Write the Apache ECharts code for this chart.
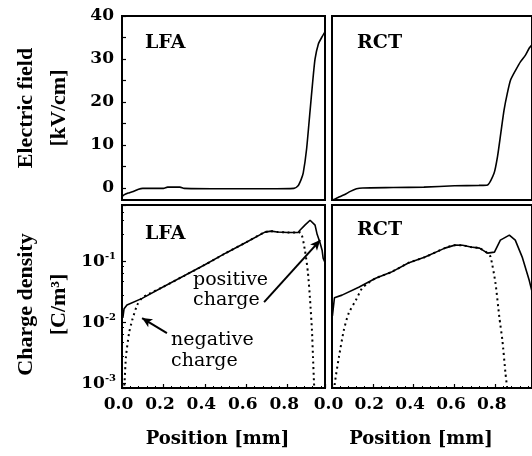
<!DOCTYPE html>
<html><head><meta charset="utf-8">
<script src="https://cdn.jsdelivr.net/npm/echarts@6/dist/echarts.min.js"></script>
<style>html,body{margin:0;padding:0;background:#fff}#c{width:532px;height:456px}</style>
</head><body><div id="c"></div>
<script>
// ---------- data (position in mm) ----------
const fieldTickValues = [0, 10, 20, 30, 40];
const fieldTickMarks = [0, 5, 10, 15, 20, 25, 30, 35, 40];
const xTickLabels = ['0.0', '0.2', '0.4', '0.6', '0.8'];

// Electric field [kV/cm], LFA
const posLfaField = [0.0, 0.01, 0.03, 0.05, 0.08, 0.1, 0.2, 0.22, 0.28, 0.3, 0.5, 0.7, 0.83, 0.85, 0.865, 0.875, 0.891, 0.908, 0.92, 0.932, 0.948, 0.964, 0.98];
const fieldLfa    = [-2.0, -1.6, -1.2, -0.9, -0.3, -0.1, -0.1, 0.2, 0.2, -0.1, -0.2, -0.2, -0.1, 0.5, 2.0, 3.5, 9.0, 18.0, 24.4, 30.0, 33.5, 35.0, 36.3];

// Electric field [kV/cm], RCT
const posRctField = [0.003, 0.03, 0.06, 0.09, 0.12, 0.15, 0.3, 0.45, 0.6, 0.72, 0.762, 0.794, 0.811, 0.827, 0.843, 0.859, 0.875, 0.9, 0.924, 0.948, 0.966, 0.98];
const fieldRct    = [-2.8, -2.2, -1.6, -0.8, -0.2, 0.0, 0.1, 0.2, 0.5, 0.6, 0.7, 3.4, 7.3, 12.7, 18.1, 22.0, 25.1, 27.4, 29.4, 30.9, 32.5, 33.3];

// Charge density [C/m^3], LFA
const posLfaPos = [0.004, 0.01, 0.024, 0.097, 0.2, 0.3, 0.4, 0.5, 0.6, 0.69, 0.72, 0.75, 0.8, 0.85, 0.86, 0.883, 0.908, 0.917, 0.932, 0.942, 0.956, 0.966, 0.971, 0.98];
const rhoLfaPos = [0.0117, 0.0166, 0.0191, 0.0245, 0.038, 0.0575, 0.087, 0.135, 0.204, 0.299, 0.31, 0.30, 0.295, 0.295, 0.324, 0.389, 0.468, 0.49, 0.389, 0.275, 0.20, 0.151, 0.112, 0.095];
const posLfaNeg = [0.006, 0.012, 0.019, 0.034, 0.049, 0.073, 0.097, 0.13, 0.2, 0.3, 0.4, 0.5, 0.6, 0.69, 0.72, 0.75, 0.8, 0.86, 0.883, 0.898, 0.908, 0.917, 0.922, 0.927, 0.932];
const rhoLfaNeg = [0.0006, 0.001, 0.00269, 0.0066, 0.0107, 0.019, 0.025, 0.029, 0.038, 0.0575, 0.087, 0.135, 0.204, 0.299, 0.31, 0.30, 0.295, 0.295, 0.151, 0.063, 0.0229, 0.0074, 0.00269, 0.001, 0.0005];

// Charge density [C/m^3], RCT
const posRctPos = [0.002, 0.012, 0.049, 0.131, 0.214, 0.291, 0.374, 0.456, 0.553, 0.602, 0.64, 0.68, 0.723, 0.762, 0.796, 0.825, 0.869, 0.898, 0.932, 0.956, 0.966, 0.98];
const rhoRctPos = [0.0126, 0.0251, 0.0277, 0.0372, 0.0525, 0.0661, 0.0933, 0.1164, 0.1633, 0.1828, 0.182, 0.17, 0.1633, 0.1352, 0.1406, 0.2208, 0.2667, 0.2208, 0.1164, 0.0635, 0.049, 0.0316];
const posRctNeg = [0.008, 0.014, 0.034, 0.058, 0.082, 0.117, 0.146, 0.17, 0.214, 0.291, 0.374, 0.456, 0.553, 0.602, 0.64, 0.68, 0.723, 0.762, 0.777, 0.801, 0.82, 0.835, 0.85, 0.859];
const rhoRctNeg = [0.0005, 0.001, 0.00269, 0.0074, 0.0141, 0.0229, 0.0355, 0.042, 0.0525, 0.0661, 0.0933, 0.1164, 0.1633, 0.1828, 0.182, 0.17, 0.1633, 0.1352, 0.1175, 0.0437, 0.012, 0.005, 0.00145, 0.0008];

// annotation arrows (data coordinates)
const posArrowTail = [0.686, 0.0213], posArrowTip = [0.957, 0.221];
const negArrowTail = [0.217, 0.0066], negArrowTip = [0.097, 0.01164];

const zip = (xs, ys) => xs.map((x, i) => [x, ys[i]]);

// ---------- styling ----------
const BOLD = '"DejaVu Serif"';
const tickFont = { fontFamily: BOLD, fontWeight: 'bold', fontSize: 17, color: '#000' };
const black = '#000';

function xAxisDef(gridIndex, labels) {
  return {
    type: 'value', gridIndex, min: 0, max: 0.98, interval: 0.2,
    axisLine: { show: true, onZero: false, lineStyle: { color: black, width: 2 } },
    axisTick: { show: labels, inside: true, length: 4, lineStyle: { color: black, width: 1.2 } },
    minorTick: { show: labels, splitNumber: 5, length: 2, lineStyle: { color: black, width: 1 } },
    splitLine: { show: false },
    axisLabel: labels ? Object.assign({ show: true, margin: 8, showMaxLabel: false, padding: [0, 7, 0, 0],
      formatter: v => v.toFixed(1) }, tickFont) : { show: false },
    name: labels ? 'Position [mm]' : '',
    nameLocation: 'middle', nameGap: 42,
    nameTextStyle: { fontFamily: BOLD, fontWeight: 'bold', fontSize: 18, color: black, padding: [0, gridIndex === 3 ? 22 : 12, 0, 0] }
  };
}

const fieldAxisLeft = {
  type: 'value', gridIndex: 0, min: -2.8, max: 40,
  axisLine: { show: true, onZero: false, lineStyle: { color: black, width: 2 } },
  axisTick: { show: true, inside: true, length: 4, customValues: fieldTickMarks, lineStyle: { color: black, width: 1.2 } },
  axisLabel: Object.assign({ show: true, margin: 8, customValues: fieldTickValues }, tickFont),
  splitLine: { show: false },
  name: 'Electric field\n[kV/cm]', nameLocation: 'middle', nameRotate: 90, nameGap: 46,
  nameTextStyle: { fontFamily: '"Liberation Serif"', fontWeight: 'bold', fontSize: 22, lineHeight: 33, color: black }
};
const fieldAxisRight = {
  type: 'value', gridIndex: 1, min: -2.8, max: 40,
  axisLine: { show: true, onZero: false, lineStyle: { color: black, width: 2 } },
  axisTick: { show: false }, axisLabel: { show: false }, splitLine: { show: false }
};
const logMin = Math.pow(10, -3.08), logMax = Math.pow(10, -0.08);
function logLabel(v) {
  const e = Math.log10(v), r = Math.round(e);
  if (Math.abs(e - r) > 1e-6) return '';
  return '{b|10}{s|' + r + '}';
}
const rhoAxisLeft = {
  type: 'log', logBase: 10, gridIndex: 2, min: logMin, max: logMax,
  axisLine: { show: true, onZero: false, lineStyle: { color: black, width: 2 } },
  axisTick: { show: true, inside: true, length: 4, lineStyle: { color: black, width: 1.2 } },
  minorTick: { show: true, splitNumber: 5, length: 2, lineStyle: { color: black, width: 1 } },
  axisLabel: { show: true, margin: 6, formatter: logLabel, showMinLabel: false, showMaxLabel: false,
    rich: {
      b: { fontFamily: BOLD, fontWeight: 'bold', fontSize: 17, color: black },
      s: { fontFamily: BOLD, fontWeight: 'bold', fontSize: 10, color: black, padding: [0, 0, 9, 0] }
    } },
  splitLine: { show: false },
  name: 'Charge density\n[C/m³]', nameLocation: 'middle', nameRotate: 90, nameGap: 46,
  nameTextStyle: { fontFamily: '"Liberation Serif"', fontWeight: 'bold', fontSize: 22, lineHeight: 33, color: black, padding: [0, 16, 0, 0] }
};
const rhoAxisRight = {
  type: 'log', logBase: 10, gridIndex: 3, min: logMin, max: logMax,
  axisLine: { show: true, onZero: false, lineStyle: { color: black, width: 2 } },
  axisTick: { show: false }, axisLabel: { show: false }, splitLine: { show: false }, minorTick: { show: false }
};

const gridBase = { show: true, borderColor: black, borderWidth: 2, backgroundColor: 'transparent', containLabel: false };
const solid = { color: black, width: 1.6 };
const dotted = { color: black, width: 2, type: [2, 3.5] };

function arrow(tail, tip) {
  return {
    silent: true, animation: false, symbol: ['none', 'arrow'], symbolSize: [7, 10],
    lineStyle: { color: black, width: 2, type: 'solid' }, label: { show: false },
    data: [[{ coord: tail }, { coord: tip }]]
  };
}

const labelFont = 'bold 19px "DejaVu Serif"';
const annFont = '19px "DejaVu Serif"';

const option = {
  animation: false,
  backgroundColor: '#fff',
  grid: [
    Object.assign({ left: 122, top: 16, width: 203, height: 184 }, gridBase),
    Object.assign({ left: 332, top: 16, width: 203, height: 184 }, gridBase),
    Object.assign({ left: 122, top: 205, width: 203, height: 183 }, gridBase),
    Object.assign({ left: 332, top: 205, width: 203, height: 183 }, gridBase)
  ],
  xAxis: [xAxisDef(0, false), xAxisDef(1, false), xAxisDef(2, true), xAxisDef(3, true)],
  yAxis: [fieldAxisLeft, fieldAxisRight, rhoAxisLeft, rhoAxisRight],
  series: [
    { type: 'line', xAxisIndex: 0, yAxisIndex: 0, data: zip(posLfaField, fieldLfa), showSymbol: false, smooth: 0.2, lineStyle: solid },
    { type: 'line', xAxisIndex: 1, yAxisIndex: 1, data: zip(posRctField, fieldRct), showSymbol: false, smooth: 0.2, lineStyle: solid },
    { type: 'line', xAxisIndex: 2, yAxisIndex: 2, data: zip(posLfaPos, rhoLfaPos), showSymbol: false, lineStyle: solid,
      markLine: arrow(posArrowTail, posArrowTip) },
    { type: 'line', xAxisIndex: 2, yAxisIndex: 2, data: zip(posLfaNeg, rhoLfaNeg), showSymbol: false, smooth: 0.2, lineStyle: dotted,
      markLine: arrow(negArrowTail, negArrowTip) },
    { type: 'line', xAxisIndex: 3, yAxisIndex: 3, data: zip(posRctPos, rhoRctPos), showSymbol: false, lineStyle: solid },
    { type: 'line', xAxisIndex: 3, yAxisIndex: 3, data: zip(posRctNeg, rhoRctNeg), showSymbol: false, smooth: 0.2, lineStyle: dotted }
  ],
  graphic: [
    { type: 'text', left: 145, top: 34, style: { text: 'LFA', font: labelFont, fill: black } },
    { type: 'text', left: 357, top: 34, style: { text: 'RCT', font: labelFont, fill: black } },
    { type: 'text', left: 145, top: 225, style: { text: 'LFA', font: labelFont, fill: black } },
    { type: 'text', left: 357, top: 221, style: { text: 'RCT', font: labelFont, fill: black } },
    { type: 'text', left: 193, top: 270, style: { text: 'positive\ncharge', font: annFont, fill: black, lineHeight: 20, align: 'center' } },
    { type: 'text', left: 171, top: 330, style: { text: 'negative\ncharge', font: annFont, fill: black, lineHeight: 21, align: 'center' } }
  ]
};

const chart = echarts.init(document.getElementById('c'), null, { renderer: 'canvas' });
chart.setOption(option);
</script>
</body></html>
